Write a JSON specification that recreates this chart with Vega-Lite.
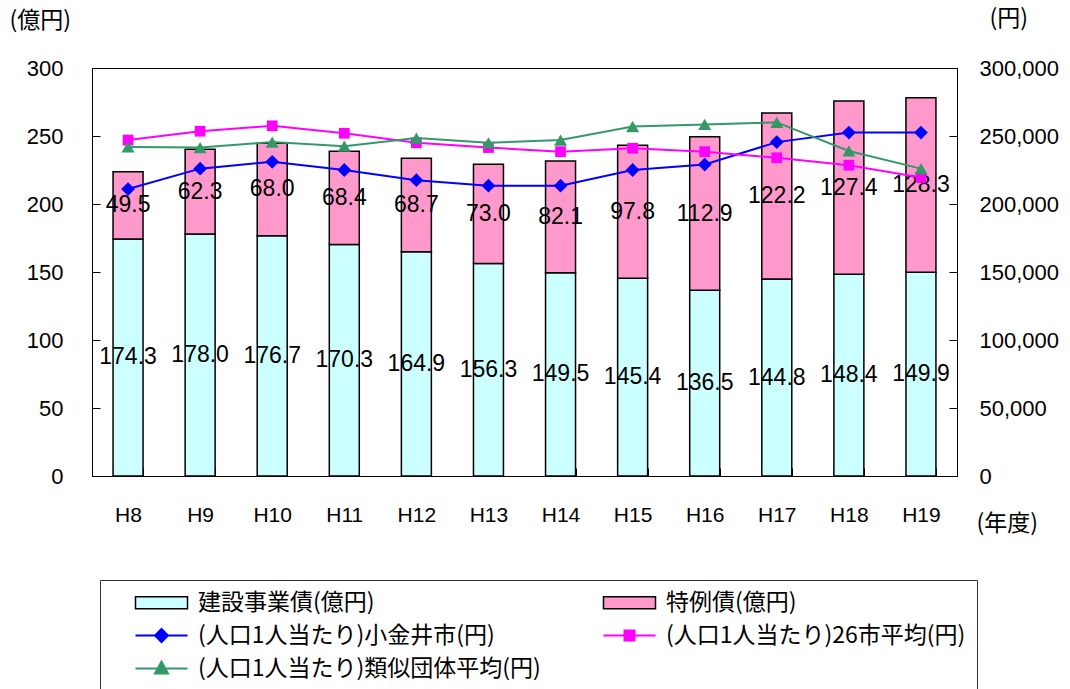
{
  "$schema": "https://vega.github.io/schema/vega-lite/v6.json",
  "width": 865,
  "height": 408,
  "autosize": {"type": "none"},
  "padding": {"left": 92, "top": 68, "right": 113, "bottom": 213},
  "background": "white",
  "config": {
    "view": {"stroke": "black", "strokeWidth": 1},
    "font": "Liberation Sans",
    "axis": {"domainColor": "black", "tickColor": "black", "labelColor": "black", "titleColor": "black", "grid": false, "labelFont": "Liberation Sans", "titleFont": "Noto Sans CJK JP", "titleFontWeight": "normal", "titleFontSize": 23}
  },
  "datasets": {
    "bars": [
      {"year": "H8", "series": "建設事業債(億円)", "value": 174.3},
      {"year": "H8", "series": "特例債(億円)", "value": 49.5},
      {"year": "H9", "series": "建設事業債(億円)", "value": 178.0},
      {"year": "H9", "series": "特例債(億円)", "value": 62.3},
      {"year": "H10", "series": "建設事業債(億円)", "value": 176.7},
      {"year": "H10", "series": "特例債(億円)", "value": 68.0},
      {"year": "H11", "series": "建設事業債(億円)", "value": 170.3},
      {"year": "H11", "series": "特例債(億円)", "value": 68.4},
      {"year": "H12", "series": "建設事業債(億円)", "value": 164.9},
      {"year": "H12", "series": "特例債(億円)", "value": 68.7},
      {"year": "H13", "series": "建設事業債(億円)", "value": 156.3},
      {"year": "H13", "series": "特例債(億円)", "value": 73.0},
      {"year": "H14", "series": "建設事業債(億円)", "value": 149.5},
      {"year": "H14", "series": "特例債(億円)", "value": 82.1},
      {"year": "H15", "series": "建設事業債(億円)", "value": 145.4},
      {"year": "H15", "series": "特例債(億円)", "value": 97.8},
      {"year": "H16", "series": "建設事業債(億円)", "value": 136.5},
      {"year": "H16", "series": "特例債(億円)", "value": 112.9},
      {"year": "H17", "series": "建設事業債(億円)", "value": 144.8},
      {"year": "H17", "series": "特例債(億円)", "value": 122.2},
      {"year": "H18", "series": "建設事業債(億円)", "value": 148.4},
      {"year": "H18", "series": "特例債(億円)", "value": 127.4},
      {"year": "H19", "series": "建設事業債(億円)", "value": 149.9},
      {"year": "H19", "series": "特例債(億円)", "value": 128.3}
    ],
    "lines": [
      {"year": "H8", "series": "(人口1人当たり)小金井市(円)", "value": 211000},
      {"year": "H9", "series": "(人口1人当たり)小金井市(円)", "value": 226000},
      {"year": "H10", "series": "(人口1人当たり)小金井市(円)", "value": 231000},
      {"year": "H11", "series": "(人口1人当たり)小金井市(円)", "value": 225000},
      {"year": "H12", "series": "(人口1人当たり)小金井市(円)", "value": 217500},
      {"year": "H13", "series": "(人口1人当たり)小金井市(円)", "value": 213500},
      {"year": "H14", "series": "(人口1人当たり)小金井市(円)", "value": 213500},
      {"year": "H15", "series": "(人口1人当たり)小金井市(円)", "value": 225000},
      {"year": "H16", "series": "(人口1人当たり)小金井市(円)", "value": 229000},
      {"year": "H17", "series": "(人口1人当たり)小金井市(円)", "value": 245500},
      {"year": "H18", "series": "(人口1人当たり)小金井市(円)", "value": 252500},
      {"year": "H19", "series": "(人口1人当たり)小金井市(円)", "value": 252500},
      {"year": "H8", "series": "(人口1人当たり)26市平均(円)", "value": 247000},
      {"year": "H9", "series": "(人口1人当たり)26市平均(円)", "value": 253500},
      {"year": "H10", "series": "(人口1人当たり)26市平均(円)", "value": 257500},
      {"year": "H11", "series": "(人口1人当たり)26市平均(円)", "value": 252000},
      {"year": "H12", "series": "(人口1人当たり)26市平均(円)", "value": 245000},
      {"year": "H13", "series": "(人口1人当たり)26市平均(円)", "value": 241500},
      {"year": "H14", "series": "(人口1人当たり)26市平均(円)", "value": 238500},
      {"year": "H15", "series": "(人口1人当たり)26市平均(円)", "value": 241000},
      {"year": "H16", "series": "(人口1人当たり)26市平均(円)", "value": 238500},
      {"year": "H17", "series": "(人口1人当たり)26市平均(円)", "value": 234000},
      {"year": "H18", "series": "(人口1人当たり)26市平均(円)", "value": 228500},
      {"year": "H19", "series": "(人口1人当たり)26市平均(円)", "value": 219500},
      {"year": "H8", "series": "(人口1人当たり)類似団体平均(円)", "value": 242000},
      {"year": "H9", "series": "(人口1人当たり)類似団体平均(円)", "value": 241500},
      {"year": "H10", "series": "(人口1人当たり)類似団体平均(円)", "value": 245500},
      {"year": "H11", "series": "(人口1人当たり)類似団体平均(円)", "value": 242500},
      {"year": "H12", "series": "(人口1人当たり)類似団体平均(円)", "value": 248500},
      {"year": "H13", "series": "(人口1人当たり)類似団体平均(円)", "value": 245000},
      {"year": "H14", "series": "(人口1人当たり)類似団体平均(円)", "value": 247000},
      {"year": "H15", "series": "(人口1人当たり)類似団体平均(円)", "value": 257000},
      {"year": "H16", "series": "(人口1人当たり)類似団体平均(円)", "value": 258500},
      {"year": "H17", "series": "(人口1人当たり)類似団体平均(円)", "value": 260000},
      {"year": "H18", "series": "(人口1人当たり)類似団体平均(円)", "value": 239000},
      {"year": "H19", "series": "(人口1人当たり)類似団体平均(円)", "value": 226000}
    ]
  },
  "encoding": {
    "x": {
      "field": "year", "type": "nominal",
      "scale": {"domain": ["H8","H9","H10","H11","H12","H13","H14","H15","H16","H17","H18","H19"], "paddingInner": 0.584, "paddingOuter": 0.292},
      "axis": {"title": "(年度)", "titleX": 884, "titleY": 47, "titleAlign": "left", "titleBaseline": "middle", "titleAngle": 0, "labelAngle": 0, "labelFontSize": 21, "tickBand": "extent", "tickSize": -8, "labelPadding": 36}
    }
  },
  "layer": [
    {
      "data": {"name": "bars"},
      "encoding": {
        "y": {"field": "value", "type": "quantitative", "stack": "zero", "scale": {"domain": [0, 300], "nice": false},
          "axis": {"values": [0,50,100,150,200,250,300], "tickSize": -8, "labelPadding": 37, "labelFontSize": 22, "title": "(億円)", "titleAngle": 0, "titleX": -83, "titleY": -48, "titleAlign": "left", "titleBaseline": "middle"}},
        "order": {"field": "series", "sort": "ascending"}
      },
      "layer": [
        {
          "mark": {"type": "bar", "stroke": "black", "strokeWidth": 1.5},
          "encoding": {
            "color": {"field": "series", "type": "nominal",
              "scale": {"domain": ["建設事業債(億円)","特例債(億円)","(人口1人当たり)小金井市(円)","(人口1人当たり)26市平均(円)","(人口1人当たり)類似団体平均(円)"], "range": ["#ccffff","#ff99cc","#0000ff","#ff00ff","#339966"]},
              "legend": {
                "orient": "none", "legendX": 8, "legendY": 512, "title": null, "columns": 2, "direction": "horizontal", "gridAlign": "all",
                "symbolSize": 400, "labelFont": "Noto Sans CJK JP", "labelFontSize": 23, "labelColor": "black", "labelLimit": 600,
                "labelOffset": 64, "rowPadding": 9, "columnPadding": 38, "padding": 11,
                "strokeColor": "#333333", "fillColor": "white", "symbolOpacity": 1,
                "symbolType": {"expr": "datum.value === '建設事業債(億円)' || datum.value === '特例債(億円)' ? 'M1.3,-0.6H6.5V0.6H1.3Z' : datum.value === '(人口1人当たり)小金井市(円)' ? 'M1.3,0H6.5M3.9,-0.65L4.55,0L3.9,0.65L3.25,0Z' : datum.value === '(人口1人当たり)26市平均(円)' ? 'M1.3,0H6.5M3.4,-0.5H4.4V0.5H3.4Z' : 'M1.3,0H6.5M3.9,-0.7L4.55,0.5H3.25Z'"},
                "symbolStrokeColor": {"expr": "datum.value === '建設事業債(億円)' || datum.value === '特例債(億円)' ? 'black' : scale('color', datum.value)"},
                "symbolStrokeWidth": {"expr": "datum.value === '建設事業債(億円)' || datum.value === '特例債(億円)' ? 1.5 : 2"}
              }}
          }
        },
        {
          "mark": {"type": "text", "fontSize": 23, "font": "Liberation Sans", "color": "black"},
          "encoding": {
            "y": {"field": "value", "type": "quantitative", "stack": "zero", "bandPosition": 0.5},
            "text": {"field": "value", "type": "quantitative", "format": ".1f"}
          }
        }
      ]
    },
    {
      "data": {"name": "lines"},
      "encoding": {
        "y": {"field": "value", "type": "quantitative", "scale": {"domain": [0, 300000], "nice": false},
          "axis": {"orient": "right", "values": [0,50000,100000,150000,200000,250000,300000], "format": ",d", "tickSize": -8, "labelPadding": 30, "labelFontSize": 22, "title": "(円)", "titleAngle": 0, "titleX": 32, "titleY": -50, "titleAlign": "left", "titleBaseline": "middle"}}
      },
      "layer": [
        {
          "transform": [{"filter": "datum.series === '(人口1人当たり)小金井市(円)'"}],
          "layer": [
            {"mark": {"type": "line", "strokeWidth": 2, "color": "#0000ff"}},
            {"mark": {"type": "point", "filled": true, "opacity": 1, "shape": "diamond", "size": 190, "color": "#0000ff"}}
          ]
        },
        {
          "transform": [{"filter": "datum.series === '(人口1人当たり)26市平均(円)'"}],
          "layer": [
            {"mark": {"type": "line", "strokeWidth": 2, "color": "#ff00ff"}},
            {"mark": {"type": "point", "filled": true, "opacity": 1, "shape": "square", "size": 115, "color": "#ff00ff"}}
          ]
        },
        {
          "transform": [{"filter": "datum.series === '(人口1人当たり)類似団体平均(円)'"}],
          "layer": [
            {"mark": {"type": "line", "strokeWidth": 2, "color": "#339966"}},
            {"mark": {"type": "point", "filled": true, "opacity": 1, "shape": "triangle-up", "size": 170, "color": "#339966"}}
          ]
        }
      ]
    }
  ],
  "resolve": {"scale": {"y": "independent"}}
}
